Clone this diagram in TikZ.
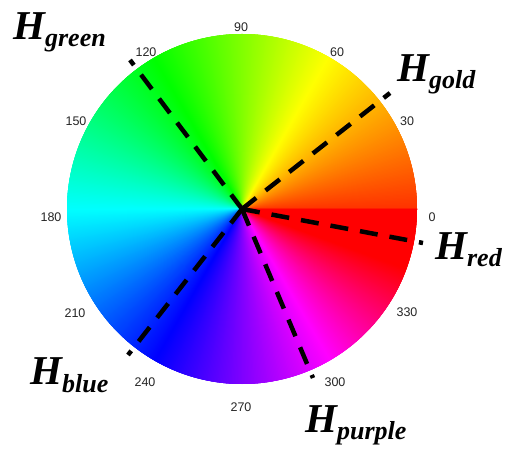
\documentclass[tikz,border=0pt]{standalone}
\usepackage{fontspec}
\setmainfont{Liberation Serif}
\newfontfamily\numfont{Liberation Sans}
\begin{document}
\begin{tikzpicture}[x=1pt,y=1pt,
  deg/.style={font=\numfont\fontsize{12.5}{14}\selectfont, text=black!85, inner sep=0pt},
  hlabel/.style={font=\bfseries\itshape\fontsize{41}{44}\selectfont, inner sep=0pt, anchor=base west},
  hueline/.style={line width=4.5pt, dash pattern=on 18pt off 12pt, black}]
\useasboundingbox (0,0) rectangle (513,452);
\fill[white] (0,0) rectangle (513,452);
\coordinate (C) at (242,243);
% hue wheel
\foreach \a in {0,0.5,...,359.5}{
  \pgfmathsetmacro\h{\a<60 ? 12+\a*0.8 : (\a<300 ? \a : min(359.9,300+(\a-300)*1.5))}
  \pgfmathsetmacro\e{min(\a+2,360)}
  \definecolor{wc}{Hsb}{\h,1,1}
  \fill[wc] (C) -- ++(\a:175) arc[start angle=\a, end angle=\e, radius=175] -- cycle;
}
% degree labels
\node[deg] (d0)   at (432,235) {0};
\node[deg] (d30)  at (407,331) {30};
\node[deg] (d60)  at (337,400) {60};
\node[deg] (d90)  at (241,425) {90};
\node[deg] (d120) at (146,400) {120};
\node[deg] (d150) at (76,331)  {150};
\node[deg] (d180) at (51,235)  {180};
\node[deg] (d210) at (75,139)  {210};
\node[deg] (d240) at (145,70)  {240};
\node[deg] (d270) at (241,45)  {270};
\node[deg] (d300) at (335,70)  {300};
\node[deg] (d330) at (407,140) {330};
% line ends
\coordinate (eg) at (130,392);
\coordinate (eo) at (390,359);
\coordinate (er) at (423,209);
\coordinate (eb) at (128,97);
\coordinate (ep) at (313,74);
\draw[hueline] (C) -- (eg);
\draw[hueline] (C) -- (eo);
\draw[hueline] (C) -- (er);
\draw[hueline] (C) -- (eb);
\draw[hueline] (C) -- (ep);
% H labels
\node[hlabel] (hg) at (13,412) {H\raisebox{-7pt}{\fontsize{26}{28}\selectfont green}};
\node[hlabel] (ho) at (397,370) {H\raisebox{-7pt}{\fontsize{26}{28}\selectfont gold}};
\node[hlabel] (hr) at (435,192) {H\raisebox{-7pt}{\fontsize{26}{28}\selectfont red}};
\node[hlabel] (hb) at (30,67)   {H\raisebox{-7pt}{\fontsize{26}{28}\selectfont blue}};
\node[hlabel] (hp) at (305,20)  {H\raisebox{-7pt}{\fontsize{26}{28}\selectfont purple}};
\end{tikzpicture}
\end{document}
